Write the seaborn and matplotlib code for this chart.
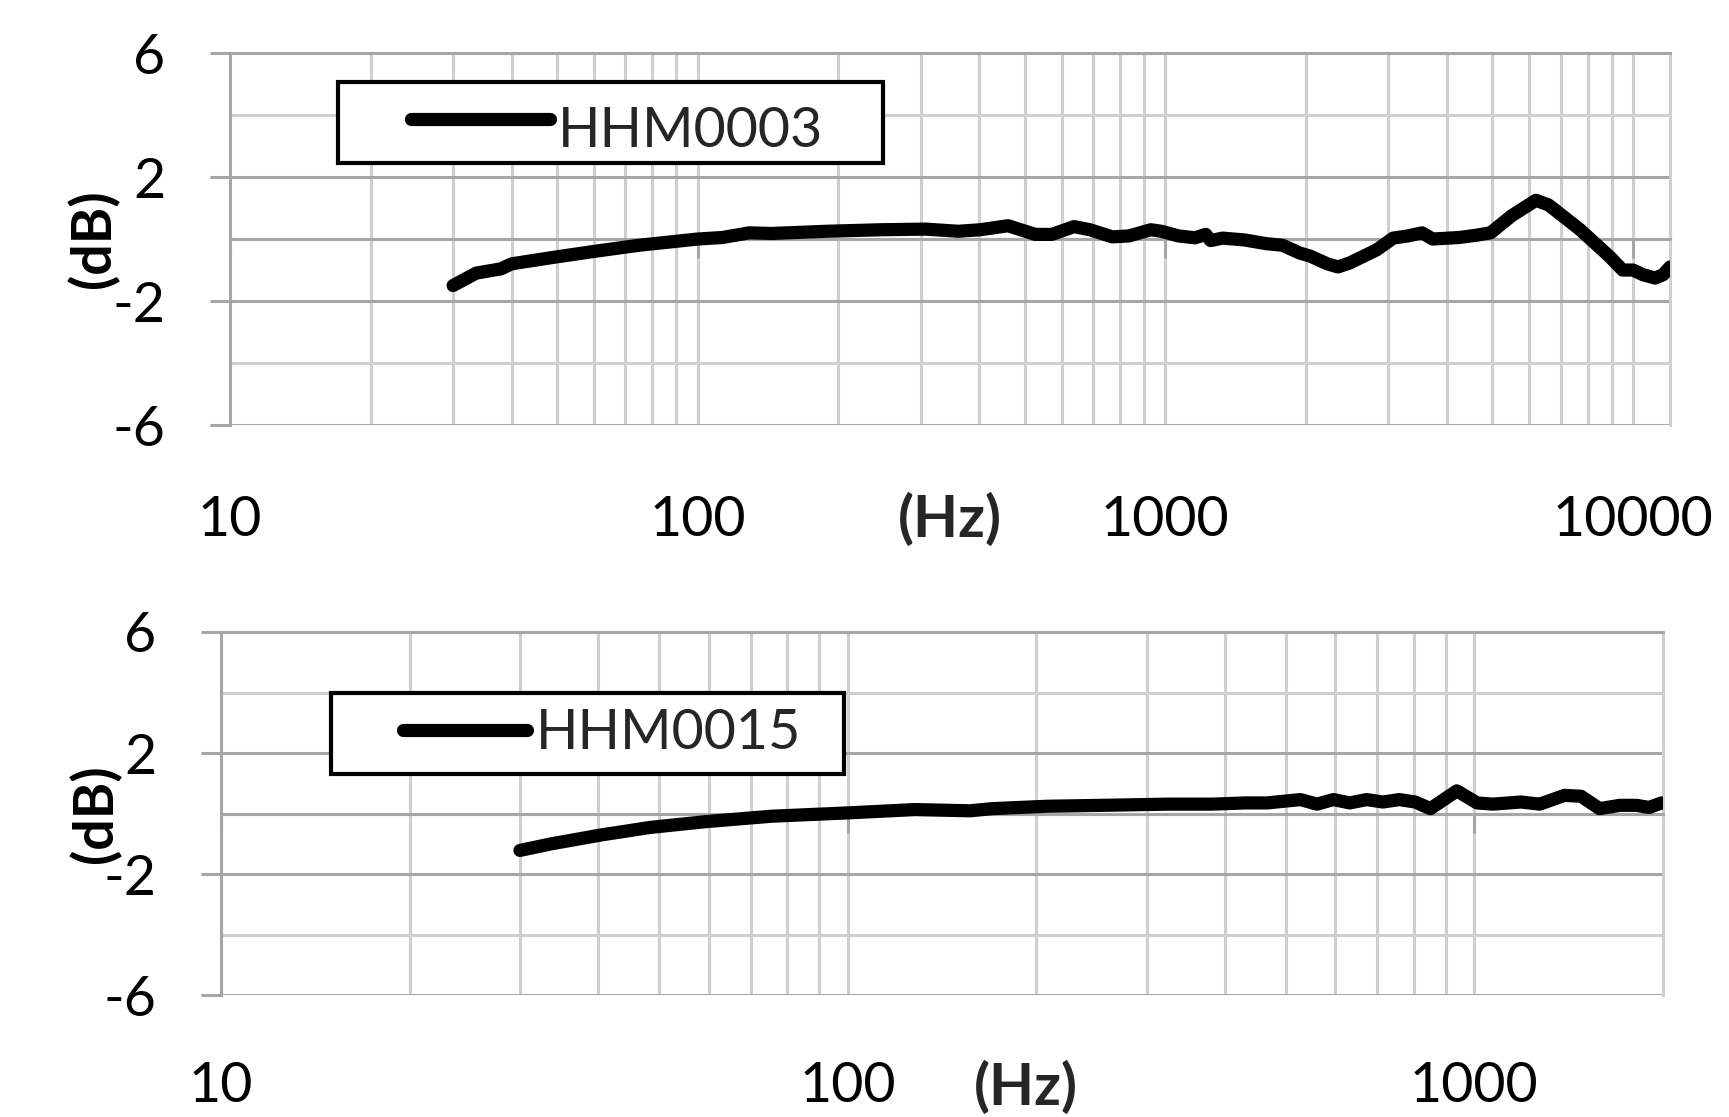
import numpy as np
import pandas as pd
import matplotlib
matplotlib.use("Agg")
import matplotlib.pyplot as plt
import seaborn as sns
from matplotlib.lines import Line2D
from matplotlib.legend_handler import HandlerLine2D
from matplotlib.ticker import FixedLocator

# ── DATA ─────────────────────────────────────────────────────────────────────
FREQ_0003 = [30, 33.6, 38, 40, 48.7, 60, 75, 100, 113, 129, 144, 188, 247, 307,
             361, 402, 461, 527, 572, 638, 690, 770, 836, 931, 981, 1067, 1157,
             1220, 1250, 1325, 1478, 1644, 1780, 1937, 2040, 2220, 2340, 2480,
             2830, 3070, 3300, 3540, 3730, 4250, 4610, 4960, 5500, 6200, 6600,
             7710, 8930, 9500, 10000, 10500, 11150, 11600, 12000]
DB_0003 = [-1.5, -1.1, -0.96, -0.8, -0.6, -0.4, -0.2, 0.0, 0.05, 0.2, 0.18, 0.25,
           0.3, 0.32, 0.25, 0.3, 0.43, 0.15, 0.15, 0.4, 0.3, 0.07, 0.1, 0.3, 0.25,
           0.1, 0.04, 0.15, -0.05, 0.03, -0.03, -0.15, -0.2, -0.45, -0.55, -0.8,
           -0.9, -0.77, -0.35, 0.03, 0.1, 0.2, 0.0, 0.05, 0.12, 0.2, 0.75, 1.25,
           1.1, 0.3, -0.58, -1.0, -1.0, -1.15, -1.26, -1.15, -0.9]

FREQ_0015 = [30, 33.7, 40.4, 48.4, 59.3, 75.6, 100, 128, 157, 170, 208, 255, 325,
             382, 431, 467, 528, 561, 596, 633, 673, 715, 759, 805, 851, 938,
             1010, 1070, 1187, 1272, 1393, 1480, 1585, 1706, 1816, 1900, 1990]
DB_0015 = [-1.22, -1.0, -0.71, -0.46, -0.27, -0.09, 0.02, 0.13, 0.09, 0.16, 0.24,
           0.27, 0.31, 0.31, 0.35, 0.35, 0.46, 0.31, 0.46, 0.35, 0.46, 0.38, 0.46,
           0.38, 0.16, 0.75, 0.35, 0.31, 0.38, 0.31, 0.6, 0.57, 0.16, 0.27, 0.27,
           0.2, 0.35]

X_TICKS_TOP = [10, 100, 1000, 10000]
X_TICKS_BOT = [10, 100, 1000]
Y_MAJOR = [-6, -2, 2, 6]
Y_MINOR = [-4, 0, 4]

# ── STYLE ────────────────────────────────────────────────────────────────────
sns.set_theme(style="white")
plt.rcParams["font.family"] = ["Lato", "DejaVu Sans"]
FS = 40
DARK = "#a6a6a6"
LIGHT = "#cfcfcf"
GLW = 2.2
LINE_W = 9.5

fig = plt.figure(figsize=(17.29, 11.17), dpi=100)
ax_top = fig.add_axes([0.1330, 0.6195, 0.8329, 0.3330])
ax_bot = fig.add_axes([0.1278, 0.1092, 0.8340, 0.3250])


def style_axis(ax, xmax, xticks, label_pad):
    ax.set_xscale("log")
    ax.set_xlim(10, xmax)
    ax.set_ylim(-6, 6)
    ax.xaxis.set_major_locator(FixedLocator(xticks))
    ax.xaxis.set_minor_locator(FixedLocator(
        [m * 10 ** d for d in range(1, 5) for m in range(2, 10) if m * 10 ** d < xmax]))
    ax.set_xticklabels([str(t) for t in xticks])
    ax.yaxis.set_major_locator(FixedLocator(Y_MAJOR))
    ax.yaxis.set_minor_locator(FixedLocator(Y_MINOR))
    ax.set_yticklabels([str(t) for t in Y_MAJOR])

    ax.grid(True, which="major", axis="y", color=DARK, lw=GLW, zorder=0)
    ax.grid(True, which="minor", axis="y", color=LIGHT, lw=GLW, zorder=0)
    ax.grid(True, which="both", axis="x", color=LIGHT, lw=GLW, zorder=0)
    ax.set_axisbelow(True)

    # Excel-style: horizontal axis crosses at 0 dB, labels pushed below the plot
    ax.spines["bottom"].set_position(("data", 0))
    for side in ["bottom", "left", "top"]:
        ax.spines[side].set_color(DARK)
        ax.spines[side].set_linewidth(GLW)
    ax.spines["right"].set_color(LIGHT)
    ax.spines["right"].set_linewidth(GLW)

    ax.tick_params(axis="x", which="major", direction="out", length=14,
                   width=GLW, color=DARK, pad=label_pad, labelsize=FS,
                   labelcolor="black", bottom=True)
    ax.tick_params(axis="x", which="minor", length=0)
    ax.tick_params(axis="y", which="major", direction="out", length=14.4,
                   width=GLW, color=DARK, pad=32, labelsize=FS,
                   labelcolor="black", left=True)
    ax.tick_params(axis="y", which="minor", length=0)
    ax.set_xlabel("")


def add_legend(ax, bbox, handlelength, textpad, marker_pad, text_drop=0):
    leg = ax.legend(loc="upper left", bbox_to_anchor=bbox, mode="expand",
                    borderaxespad=0, fontsize=FS, numpoints=2,
                    handlelength=handlelength, handletextpad=textpad,
                    borderpad=0.27, fancybox=False, framealpha=1,
                    edgecolor="black",
                    handler_map={Line2D: HandlerLine2D(marker_pad=marker_pad)})
    leg.get_frame().set_linewidth(3)
    for h in leg.get_lines():
        h.set_linewidth(LINE_W)
        h.set_solid_capstyle("round")
    for t in leg.get_texts():
        t.set_position((0, -text_drop))


# ── TOP: HHM0003 ─────────────────────────────────────────────────────────────
df_a = pd.DataFrame({"freq": FREQ_0003, "db": DB_0003})
sns.lineplot(data=df_a, x="freq", y="db", ax=ax_top, color="black",
             linewidth=LINE_W, label="HHM0003", solid_capstyle="round",
             solid_joinstyle="round", zorder=3)
style_axis(ax_top, 12000, X_TICKS_TOP, 170)
ax_top.set_ylabel("(dB)", fontsize=FS, fontweight="bold", color="black")
ax_top.yaxis.set_label_coords(-0.077, 0.5)
add_legend(ax_top, (0.075, 0.5, 0.3785, 0.422), 4.6, -0.92, 1.05, text_drop=9)

# ── BOTTOM: HHM0015 ──────────────────────────────────────────────────────────
df_b = pd.DataFrame({"freq": FREQ_0015, "db": DB_0015})
sns.lineplot(data=df_b, x="freq", y="db", ax=ax_bot, color="black",
             linewidth=LINE_W, label="HHM0015", solid_capstyle="round",
             solid_joinstyle="round", zorder=3)
style_axis(ax_bot, 2000, X_TICKS_BOT, 164)
ax_bot.set_ylabel("(dB)", fontsize=FS, fontweight="bold", color="black")
ax_bot.yaxis.set_label_coords(-0.069, 0.5)
add_legend(ax_bot, (0.0763, 0.4, 0.3558, 0.432), 4.29, -0.87, 1.03)

# x-axis unit labels sit between the tick labels
fig.text(950 / 1729, 1 - 520 / 1117, "(Hz)", fontsize=42, fontweight="bold",
         ha="center", va="center")
fig.text(1026 / 1729, 1 - 1088 / 1117, "(Hz)", fontsize=42, fontweight="bold",
         ha="center", va="center")

fig.savefig("out.png", dpi=100, facecolor="white")
